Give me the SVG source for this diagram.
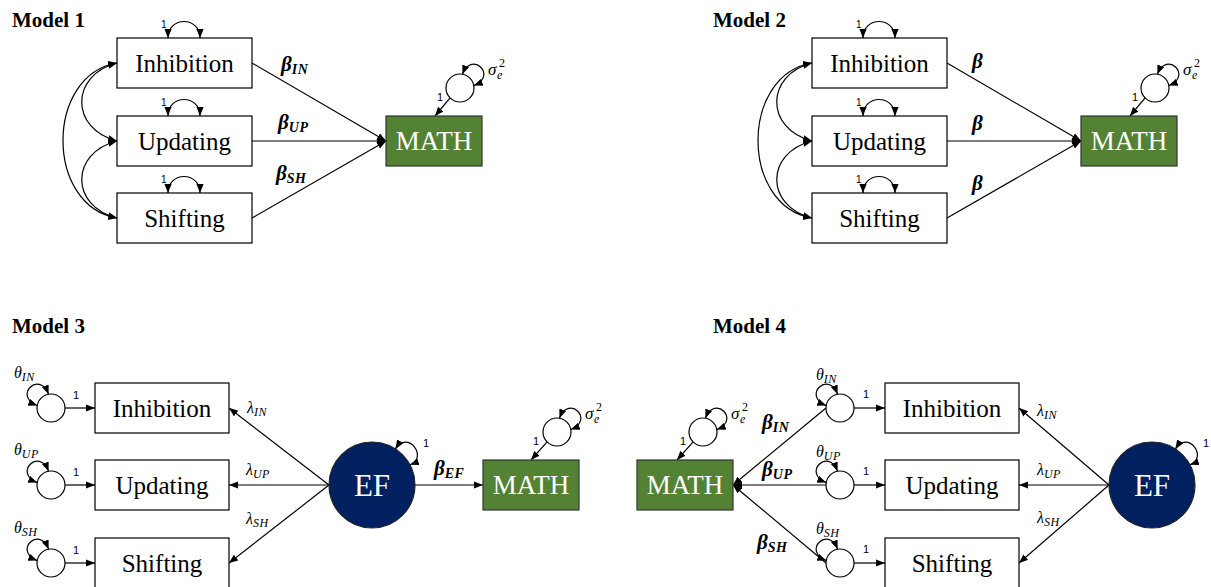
<svg xmlns="http://www.w3.org/2000/svg" xmlns:xlink="http://www.w3.org/1999/xlink" width="1211" height="587" viewBox="0 0 1211 587">
  <style>
    .title { font-family: "Liberation Serif", serif; font-weight: bold; font-size: 21px; fill: #000; }
    .box { fill: #fff; stroke: #000; stroke-width: 1.2; }
    .math { fill: #548235; stroke: #333; stroke-width: 1.2; }
    .ef { fill: #002060; stroke: #222; stroke-width: 1.2; }
    .err { fill: #fff; stroke: #000; stroke-width: 1.2; }
    .lbl { font-family: "Liberation Serif", serif; font-size: 25px; text-anchor: middle; fill: #000; }
    .wlbl { font-family: "Liberation Serif", serif; font-size: 27px; text-anchor: middle; fill: #fff; }
    .eflbl { font-family: "Liberation Serif", serif; font-size: 31px; text-anchor: middle; fill: #fff; }
    .edge { fill: none; stroke: #000; stroke-width: 1.2; marker-end: url(#ah); }
    .both { fill: none; stroke: #000; stroke-width: 1.2; marker-start: url(#ah); marker-end: url(#ah); }
    .one { font-family: "Liberation Sans", sans-serif; font-size: 11px; fill: #000; }
    .gk { font-family: "Liberation Serif", serif; font-style: italic; font-size: 16px; fill: #000; }
    .sig { font-family: "Liberation Serif", serif; font-style: italic; font-size: 17px; fill: #000; }
    .bt { font-family: "Liberation Serif", serif; font-style: italic; font-weight: bold; font-size: 21px; fill: #000; }
    .sub { font-size: 12px; letter-spacing: 0.5px; }
    .sup { font-size: 12px; font-style: normal; }
    .bsub { font-size: 14px; letter-spacing: 0.5px; }
  </style>
  <defs>
    <marker id="ah" viewBox="0 0 10 8" refX="10" refY="4" markerWidth="9" markerHeight="7.2" markerUnits="userSpaceOnUse" orient="auto-start-reverse">
      <path d="M0,0 L10,4 L0,8 z" fill="#000"/>
    </marker>
    <!-- variance loops, drawn around the origin -->
    <path id="topLoop" class="both" d="M-16,0 C-16,-22 16,-22 16,0"/>
    <path id="loopR" class="both" d="M2.4,-13.8 C12,-38 38,-12 13.8,-2.4"/>
    <path id="loopL" class="both" d="M-2.4,-13.8 C-12,-38 -38,-12 -13.8,-2.4"/>
    <path id="loopEF" class="both" d="M23.4,-36.1 C36,-56 56.5,-27 38,-20.2"/>
  </defs>

  <!-- ===== Model 1 ===== -->
  <text class="title" x="12" y="27">Model 1</text>
  <g id="m1-connectors">
    <path class="edge" d="M252,63 L386,141"/>
    <path class="edge" d="M252,141 L386,141"/>
    <path class="edge" d="M252,218 L386,141"/>
    <path class="both" d="M117,63 C70,75 70,129 117,141"/>
    <path class="both" d="M117,141 C70,153 70,206 117,218"/>
    <path class="both" d="M117,63 C45,75 45,206 117,218"/>
    <path class="edge" d="M450.1,97.9 L435,116"/>
    <text class="bt" x="281" y="71">β<tspan class="bsub" dy="3">IN</tspan></text>
    <text class="bt" x="278" y="129">β<tspan class="bsub" dy="3">UP</tspan></text>
    <text class="bt" x="276" y="180">β<tspan class="bsub" dy="3">SH</tspan></text>
    <text class="one" x="437" y="101">1</text>
  </g>
  <g id="m1-inhibition">
    <rect class="box" x="117" y="38" width="135" height="50"/>
    <text class="lbl" x="184.5" y="72">Inhibition</text>
    <use xlink:href="#topLoop" x="184" y="38"/>
    <text class="one" x="161" y="28" style="font-size:10px">1</text>
  </g>
  <g id="m1-updating">
    <rect class="box" x="117" y="116" width="135" height="50"/>
    <text class="lbl" x="184.5" y="150">Updating</text>
    <use xlink:href="#topLoop" x="184" y="116"/>
    <text class="one" x="161" y="106" style="font-size:10px">1</text>
  </g>
  <g id="m1-shifting">
    <rect class="box" x="117" y="193" width="135" height="50"/>
    <text class="lbl" x="184.5" y="227">Shifting</text>
    <use xlink:href="#topLoop" x="184" y="193"/>
    <text class="one" x="161" y="183" style="font-size:10px">1</text>
  </g>
  <g id="m1-math">
    <rect class="math" x="386" y="116" width="96" height="50"/>
    <text class="wlbl" x="434" y="150">MATH</text>
  </g>
  <g id="m1-math-error">
    <circle class="err" cx="460" cy="88" r="14"/>
    <use xlink:href="#loopR" x="460" y="88"/>
    <text class="sig" x="488" y="75">σ<tspan class="sub" x="497" y="79">e</tspan><tspan class="sup" x="499" y="67">2</tspan></text>
  </g>

  <!-- ===== Model 2 ===== -->
  <text class="title" x="713" y="27">Model 2</text>
  <g transform="translate(695,0)">
    <g id="m2-connectors">
      <path class="edge" d="M252,63 L386,141"/>
      <path class="edge" d="M252,141 L386,141"/>
      <path class="edge" d="M252,218 L386,141"/>
      <path class="both" d="M117,63 C70,75 70,129 117,141"/>
      <path class="both" d="M117,141 C70,153 70,206 117,218"/>
      <path class="both" d="M117,63 C45,75 45,206 117,218"/>
      <path class="edge" d="M450.1,97.9 L435,116"/>
      <text class="bt" x="277" y="68">β</text>
      <text class="bt" x="277" y="130">β</text>
      <text class="bt" x="277" y="190">β</text>
      <text class="one" x="437" y="101">1</text>
    </g>
    <g id="m2-inhibition">
      <rect class="box" x="117" y="38" width="135" height="50"/>
      <text class="lbl" x="184.5" y="72">Inhibition</text>
      <use xlink:href="#topLoop" x="184" y="38"/>
      <text class="one" x="161" y="28" style="font-size:10px">1</text>
    </g>
    <g id="m2-updating">
      <rect class="box" x="117" y="116" width="135" height="50"/>
      <text class="lbl" x="184.5" y="150">Updating</text>
      <use xlink:href="#topLoop" x="184" y="116"/>
      <text class="one" x="161" y="106" style="font-size:10px">1</text>
    </g>
    <g id="m2-shifting">
      <rect class="box" x="117" y="193" width="135" height="50"/>
      <text class="lbl" x="184.5" y="227">Shifting</text>
      <use xlink:href="#topLoop" x="184" y="193"/>
      <text class="one" x="161" y="183" style="font-size:10px">1</text>
    </g>
    <g id="m2-math">
      <rect class="math" x="386" y="116" width="96" height="50"/>
      <text class="wlbl" x="434" y="150">MATH</text>
    </g>
    <g id="m2-math-error">
      <circle class="err" cx="460" cy="88" r="14"/>
      <use xlink:href="#loopR" x="460" y="88"/>
      <text class="sig" x="488" y="75">σ<tspan class="sub" x="497" y="79">e</tspan><tspan class="sup" x="499" y="67">2</tspan></text>
    </g>
  </g>

  <!-- ===== Model 3 ===== -->
  <text class="title" x="12" y="333">Model 3</text>
  <g id="m3-connectors">
    <path class="edge" d="M65,408 L95,408"/>
    <path class="edge" d="M65,485 L95,485"/>
    <path class="edge" d="M65,563 L95,563"/>
    <text class="one" x="73" y="399">1</text>
    <text class="one" x="73" y="476">1</text>
    <text class="one" x="73" y="554">1</text>
    <path class="edge" d="M329,485 L229,408"/>
    <path class="edge" d="M329,485 L229,485"/>
    <path class="edge" d="M329,485 L229,563"/>
    <text class="gk" x="247" y="413">λ<tspan class="sub" dy="3">IN</tspan></text>
    <text class="gk" x="246" y="475">λ<tspan class="sub" dy="3">UP</tspan></text>
    <text class="gk" x="246" y="524">λ<tspan class="sub" dy="3">SH</tspan></text>
    <path class="edge" d="M415,485 L483,485"/>
    <text class="bt" x="434" y="475">β<tspan class="bsub" dy="3">EF</tspan></text>
    <path class="edge" d="M547.1,441.9 L531,460"/>
    <text class="one" x="533" y="445">1</text>
  </g>
  <g id="m3-err-in">
    <circle class="err" cx="51" cy="408" r="14"/>
    <use xlink:href="#loopL" x="51" y="408"/>
    <text class="gk" x="14" y="378">θ<tspan class="sub" dy="3">IN</tspan></text>
  </g>
  <g id="m3-err-up">
    <circle class="err" cx="51" cy="485" r="14"/>
    <use xlink:href="#loopL" x="51" y="485"/>
    <text class="gk" x="14" y="455">θ<tspan class="sub" dy="3">UP</tspan></text>
  </g>
  <g id="m3-err-sh">
    <circle class="err" cx="51" cy="563" r="14"/>
    <use xlink:href="#loopL" x="51" y="563"/>
    <text class="gk" x="14" y="533">θ<tspan class="sub" dy="3">SH</tspan></text>
  </g>
  <g id="m3-inhibition">
    <rect class="box" x="95" y="383" width="134" height="50"/>
    <text class="lbl" x="162" y="417">Inhibition</text>
  </g>
  <g id="m3-updating">
    <rect class="box" x="95" y="460" width="134" height="50"/>
    <text class="lbl" x="162" y="494">Updating</text>
  </g>
  <g id="m3-shifting">
    <rect class="box" x="95" y="538" width="134" height="50"/>
    <text class="lbl" x="162" y="572">Shifting</text>
  </g>
  <g id="m3-ef">
    <circle class="ef" cx="372" cy="485" r="43"/>
    <text class="eflbl" x="372" y="496">EF</text>
    <use xlink:href="#loopEF" x="372" y="485"/>
    <text class="one" x="423" y="447">1</text>
  </g>
  <g id="m3-math">
    <rect class="math" x="483" y="460" width="96" height="50"/>
    <text class="wlbl" x="531" y="494">MATH</text>
  </g>
  <g id="m3-math-error">
    <circle class="err" cx="557" cy="432" r="14"/>
    <use xlink:href="#loopR" x="557" y="432"/>
    <text class="sig" x="585" y="419">σ<tspan class="sub" x="594" y="423">e</tspan><tspan class="sup" x="596" y="411">2</tspan></text>
  </g>

  <!-- ===== Model 4 ===== -->
  <text class="title" x="713" y="333">Model 4</text>
  <g id="m4-connectors">
    <path class="edge" d="M826,408 L733,485"/>
    <path class="edge" d="M826,485 L733,485"/>
    <path class="edge" d="M826,563 L733,485"/>
    <text class="bt" x="762" y="429">β<tspan class="bsub" dy="3">IN</tspan></text>
    <text class="bt" x="762" y="476">β<tspan class="bsub" dy="3">UP</tspan></text>
    <text class="bt" x="757" y="549">β<tspan class="bsub" dy="3">SH</tspan></text>
    <path class="edge" d="M854,408 L885,408"/>
    <path class="edge" d="M854,485 L885,485"/>
    <path class="edge" d="M854,563 L885,563"/>
    <text class="one" x="863" y="398">1</text>
    <text class="one" x="863" y="475">1</text>
    <text class="one" x="863" y="553">1</text>
    <path class="edge" d="M1109,485 L1019,408"/>
    <path class="edge" d="M1109,485 L1019,485"/>
    <path class="edge" d="M1109,485 L1019,563"/>
    <text class="gk" x="1037" y="416">λ<tspan class="sub" dy="3">IN</tspan></text>
    <text class="gk" x="1037" y="475">λ<tspan class="sub" dy="3">UP</tspan></text>
    <text class="gk" x="1037" y="523">λ<tspan class="sub" dy="3">SH</tspan></text>
    <path class="edge" d="M693.1,441.9 L677,460"/>
    <text class="one" x="680" y="445">1</text>
  </g>
  <g id="m4-math">
    <rect class="math" x="637" y="460" width="96" height="50"/>
    <text class="wlbl" x="685" y="494">MATH</text>
  </g>
  <g id="m4-math-error">
    <circle class="err" cx="703" cy="432" r="14"/>
    <use xlink:href="#loopR" x="703" y="432"/>
    <text class="sig" x="731" y="419">σ<tspan class="sub" x="740" y="423">e</tspan><tspan class="sup" x="742" y="411">2</tspan></text>
  </g>
  <g id="m4-err-in">
    <circle class="err" cx="840" cy="408" r="14"/>
    <use xlink:href="#loopL" x="840" y="408"/>
    <text class="gk" x="816" y="380">θ<tspan class="sub" dy="3">IN</tspan></text>
  </g>
  <g id="m4-err-up">
    <circle class="err" cx="840" cy="485" r="14"/>
    <use xlink:href="#loopL" x="840" y="485"/>
    <text class="gk" x="816" y="457">θ<tspan class="sub" dy="3">UP</tspan></text>
  </g>
  <g id="m4-err-sh">
    <circle class="err" cx="840" cy="563" r="14"/>
    <use xlink:href="#loopL" x="840" y="563"/>
    <text class="gk" x="816" y="534">θ<tspan class="sub" dy="3">SH</tspan></text>
  </g>
  <g id="m4-inhibition">
    <rect class="box" x="885" y="383" width="134" height="50"/>
    <text class="lbl" x="952" y="417">Inhibition</text>
  </g>
  <g id="m4-updating">
    <rect class="box" x="885" y="460" width="134" height="50"/>
    <text class="lbl" x="952" y="494">Updating</text>
  </g>
  <g id="m4-shifting">
    <rect class="box" x="885" y="538" width="134" height="50"/>
    <text class="lbl" x="952" y="572">Shifting</text>
  </g>
  <g id="m4-ef">
    <circle class="ef" cx="1152" cy="485" r="43"/>
    <text class="eflbl" x="1152" y="496">EF</text>
    <use xlink:href="#loopEF" x="1152" y="485"/>
    <text class="one" x="1203" y="447">1</text>
  </g>
</svg>
